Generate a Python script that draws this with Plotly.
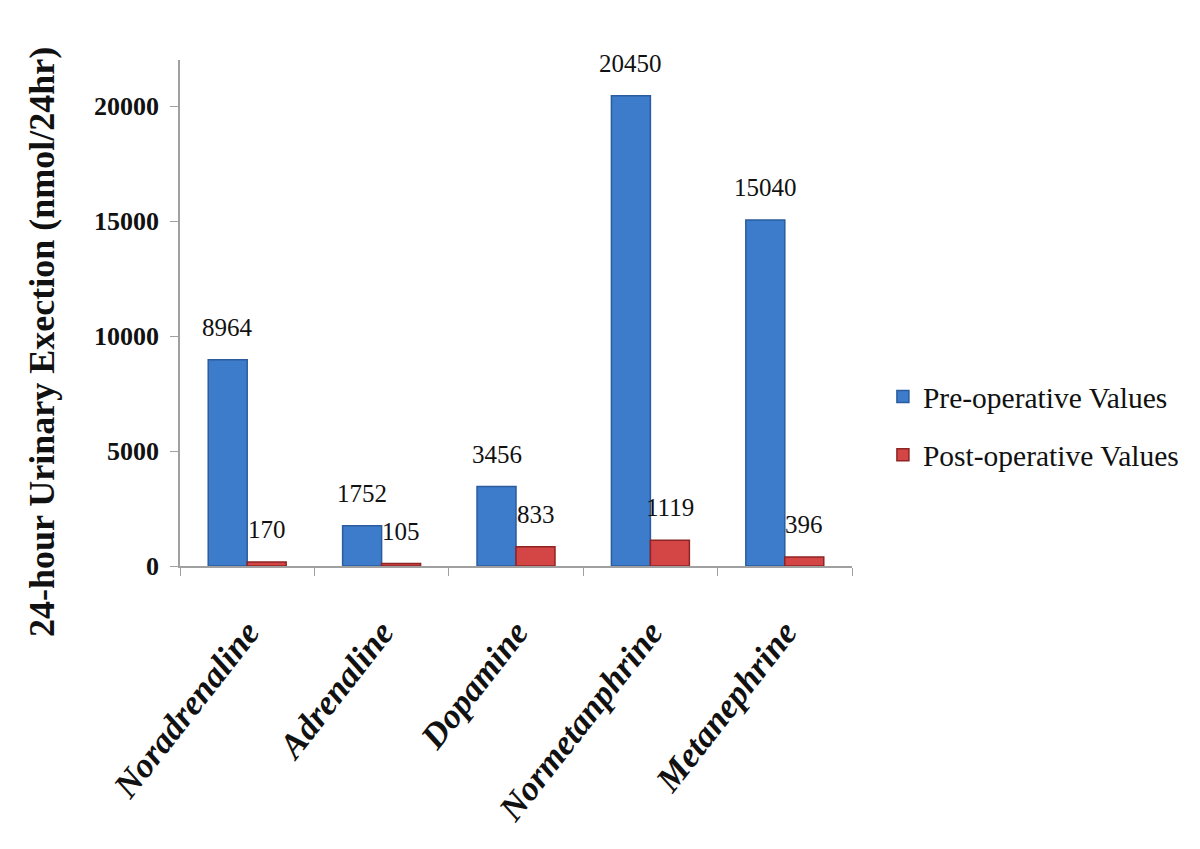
import plotly.graph_objects as go

categories = ["Noradrenaline", "Adrenaline", "Dopamine", "Normetanphrine", "Metanephrine"]
pre_values = [8964, 1752, 3456, 20450, 15040]
post_values = [170, 105, 833, 1119, 396]
y_ticks = [0, 5000, 10000, 15000, 20000]
y_tick_text = ["0", "5000", "10000", "15000", "20000"]

serif = "Liberation Serif"

fig = go.Figure()
fig.add_trace(go.Bar(x=categories, y=pre_values, name="Pre-operative Values",
                     legendgroup="pre",
                     marker=dict(color="#3D7BCB", line=dict(color="#2A5C9E", width=1.5))))
fig.add_trace(go.Bar(x=categories, y=post_values, name="Post-operative Values",
                     legendgroup="post",
                     marker=dict(color="#D44545", line=dict(color="#8E2424", width=1.5))))

# value labels sitting a little above each bar
anns = []
for c, v in zip(categories, pre_values):
    anns.append(dict(x=c, y=v, xref="x", yref="y", text=str(v), showarrow=False,
                     xshift=-19.5, yshift=17, yanchor="bottom",
                     font=dict(family=serif, size=25, color="#111")))
for c, v in zip(categories, post_values):
    anns.append(dict(x=c, y=v, xref="x", yref="y", text=str(v), showarrow=False,
                     xshift=19.5, yshift=17, yanchor="bottom",
                     font=dict(family=serif, size=25, color="#111")))

# y axis title
anns.append(dict(x=-0.205, y=0.443, xref="paper", yref="paper", showarrow=False,
                 xanchor="center", yanchor="middle",
                 text="<b>24-hour Urinary Exection (nmol/24hr)</b>", textangle=-90,
                 font=dict(family=serif, size=36, color="#111")))

# page body adds an 8px offset, margins are shifted to make up for it
fig.update_layout(
    width=1200, height=849,
    margin=dict(l=172, r=356, t=52, b=291),
    plot_bgcolor="white", paper_bgcolor="white",
    barmode="group", bargap=0.42, bargroupgap=0,
    annotations=anns,
    legend=dict(x=1.046, y=0.277, xanchor="left", yanchor="middle",
                font=dict(family=serif, size=29.5, color="#111"),
                traceorder="grouped", tracegroupgap=17, itemwidth=30),
    showlegend=True,
)
fig.update_xaxes(showline=True, linecolor="#a0a0a0", linewidth=1.5,
                 ticks="outside", tickson="boundaries", ticklen=8, tickcolor="#a0a0a0",
                 tickangle=-52, ticklabelstandoff=30,
                 tickfont=dict(family=serif, size=35, color="#111", weight="bold", style="italic"))
fig.update_yaxes(range=[0, 22000], tickvals=y_ticks, ticktext=y_tick_text,
                 showline=True, linecolor="#a0a0a0",
                 linewidth=1.5, ticks="outside", ticklen=8, tickcolor="#a0a0a0",
                 showgrid=False, zeroline=False, ticklabelstandoff=6,
                 tickfont=dict(family=serif, size=26, color="#111", weight="bold"))

fig.write_html("out.html")
